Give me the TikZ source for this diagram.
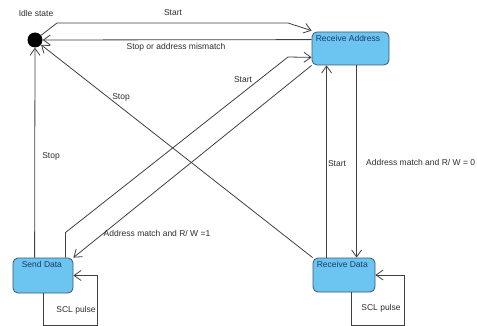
\documentclass[tikz,border=0pt]{standalone}
\usepackage{fontspec}
\setmainfont{Liberation Sans}
\usetikzlibrary{arrows.meta}

\definecolor{boxfill}{RGB}{108,197,240}
\definecolor{boxline}{RGB}{58,88,110}
\definecolor{boxtext}{RGB}{26,58,106}
\definecolor{wire}{RGB}{64,64,64}
\definecolor{txt}{RGB}{45,45,45}

\begin{document}
\begin{tikzpicture}[x=1pt,y=-1pt,
  state/.style={rectangle,rounded corners=5pt,draw=boxline,fill=boxfill,line width=0.8pt},
  edge/.style={draw=wire,line width=0.8pt,-{Straight Barb[length=7pt,width=10pt]}},
  txtlbl/.style={text=txt,inner sep=1pt,font=\fontsize{8.5}{10}\selectfont}]
\useasboundingbox (0,0) rectangle (477,326);

\node [circle,fill=black,minimum size=15pt,inner sep=0pt] (idle) at (35,40) {};
\node [state,minimum width=77pt,minimum height=33pt,
  label={[anchor=north west,text=boxtext,inner sep=4pt,font=\fontsize{8.5}{10}\selectfont]north west:Receive Address}] (raddr) at (350.5,48.5) {};
\node [state,minimum width=60pt,minimum height=35pt,
  label={[anchor=north west,text=boxtext,inner sep=4pt,xshift=5pt,font=\fontsize{8.5}{10}\selectfont]north west:Send Data}] (send) at (43,275.5) {};
\node [state,minimum width=62pt,minimum height=34pt,
  label={[anchor=north west,text=boxtext,inner sep=4pt,font=\fontsize{8.5}{10}\selectfont]north west:Receive Data}] (rdata) at (344,275) {};

% edges
\draw [edge] (idle) -- (57,23) -- (288,23) -- ([yshift=1pt]raddr.north west);
\draw [edge] ([yshift=-8pt]raddr.north west) -- (idle);
\draw [edge] ([xshift=-8pt]send.north east) -- ++(0,-25) -- (288,57) -- ([yshift=8pt]raddr.south west);
\draw [edge] (raddr.south west) -- (send.north east);
\draw [edge] ([xshift=22pt]send.north west) -- (idle.south);
\draw [edge] (rdata.north west) -- (idle);
\draw [edge] ([xshift=14pt]rdata.north west) -- ([xshift=15pt]raddr.south west);
\draw [edge] ([xshift=45pt]raddr.south west) -- ([xshift=44pt]rdata.north west);
\draw [edge] (send.south) -- ++(0,32) -| ([xshift=24pt]send.east) -- (send.east);
\draw [edge] ([xshift=7pt]rdata.south) -- ++(0,33) -| ([xshift=29pt]rdata.east) -- (rdata.east);

% labels
\node [txtlbl] (lidle) at (36,13) {Idle state};
\node [txtlbl] (lstart1) at (173,13) {Start};
\node [txtlbl] (lmis) at (176,47) {Stop or address mismatch};
\node [txtlbl] (lstart2) at (243,80) {Start};
\node [txtlbl] (lstop1) at (121,97) {Stop};
\node [txtlbl] (lstop2) at (51,156) {Stop};
\node [txtlbl] (lstart3) at (337,164) {Start};
\node [txtlbl,anchor=west] (lrw0) at (365,162) {Address match and R/ W = 0};
\node [txtlbl] (lrw1) at (157,233) {Address match and R/ W =1};
\node [txtlbl] (lscl1) at (76,310) {SCL pulse};
\node [txtlbl] (lscl2) at (381,308) {SCL pulse};
\end{tikzpicture}
\end{document}
